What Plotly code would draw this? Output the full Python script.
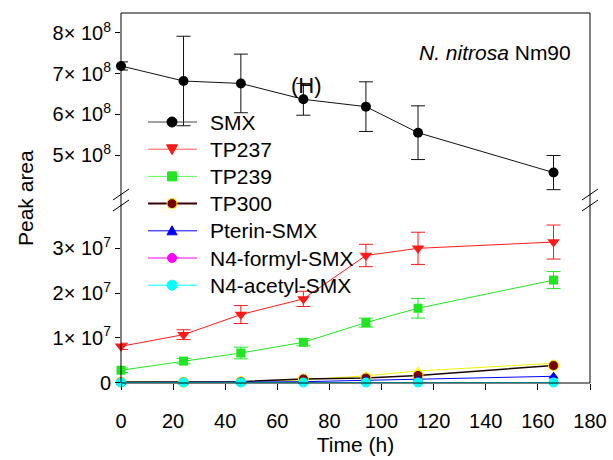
import plotly.graph_objects as go

# Sampling times (h)
time_h = [0, 24, 46, 70, 94, 114, 166]

# Parent compound (upper panel)
smx = [7.19e8, 6.82e8, 6.76e8, 6.37e8, 6.19e8, 5.55e8, 4.57e8]
smx_err = [0.10e8, 1.10e8, 0.72e8, 0.39e8, 0.61e8, 0.66e8, 0.42e8]

# Transformation products (lower panel)
tp237 = [0.81e7, 1.07e7, 1.52e7, 1.87e7, 2.84e7, 3.00e7, 3.14e7]
tp237_err = [0.07e7, 0.11e7, 0.20e7, 0.17e7, 0.25e7, 0.36e7, 0.38e7]
tp239 = [0.275e7, 0.48e7, 0.66e7, 0.90e7, 1.34e7, 1.66e7, 2.29e7]
tp239_err = [0.05e7, 0.06e7, 0.13e7, 0.08e7, 0.10e7, 0.22e7, 0.19e7]
tp300 = [0.01e7, 0.01e7, 0.02e7, 0.08e7, 0.10e7, 0.16e7, 0.38e7]
tp_yellow = [0.0, 0.005e7, 0.02e7, 0.06e7, 0.15e7, 0.26e7, 0.43e7]
pterin_smx = [0.0, 0.0, 0.01e7, 0.02e7, 0.05e7, 0.07e7, 0.14e7]
n4_formyl_smx = [0.0, 0.0, 0.0, 0.0, 0.0, 0.0, 0.0]
n4_acetyl_smx = [0.0, 0.0, 0.0, 0.0, 0.0, 0.0, 0.0]

# Axis ticks
top_tickvals = [5e8, 6e8, 7e8, 8e8]
top_ticktext = ["5\u00d7 10<sup>8</sup>", "6\u00d7 10<sup>8</sup>",
                "7\u00d7 10<sup>8</sup>", "8\u00d7 10<sup>8</sup>"]
bot_tickvals = [0, 1e7, 2e7, 3e7]
bot_ticktext = ["0", "1\u00d7 10<sup>7</sup>", "2\u00d7 10<sup>7</sup>",
                "3\u00d7 10<sup>7</sup>"]
x_tickvals = list(range(0, 181, 20))

FONT = "Liberation Sans, Arial, sans-serif"
W, H = 613, 460
ML, MR, MT, MB = 121, 23, 13, 77
PW, PH = W - ML - MR, H - MT - MB
BREAK_PX = 200  # pixel row of the axis break
split = (H - MB - BREAK_PX) / PH


def px_x(p):
    return (p - ML) / PW


def px_y(p):
    return (H - MB - p) / PH


fig = go.Figure()


def add(y, color, symbol, err=None, yaxis="y", line_color=None,
        line_width=1, marker_line=None, size=9):
    fig.add_trace(go.Scatter(
        x=time_h, y=y, yaxis=yaxis, mode="lines+markers",
        showlegend=False, cliponaxis=False,
        line=dict(color=line_color or color, width=line_width),
        marker=dict(color=color, symbol=symbol, size=size,
                    line=marker_line or dict(width=0)),
        error_y=(dict(type="data", array=err, visible=True,
                      color=line_color or color, thickness=1, width=7)
                 if err is not None else None),
    ))


add(smx, "black", "circle", smx_err, yaxis="y2", line_color="#111111",
    size=10)
add(tp237, "#ff1a1a", "triangle-down", tp237_err, size=11)
add(tp239, "#22e622", "square", tp239_err, size=9)
add(tp_yellow, "#ffff00", "triangle-up", None, line_color="#f0f000", size=9)
add(tp300, "#7a0000", "circle", None, line_color="#1a0500", line_width=1.5,
    marker_line=dict(color="#ffee00", width=1), size=10)
add(pterin_smx, "#0000ff", "triangle-up", None, size=9)
add(n4_formyl_smx, "#ff00ff", "circle", None, size=9)
add(n4_acetyl_smx, "#00ffff", "circle", None, size=10)

axis_common = dict(showgrid=False, zeroline=False, showline=False,
                   automargin=False,
                   ticks="outside", ticklen=5, tickwidth=1, tickcolor="black",
                   tickfont=dict(family=FONT, size=20, color="black"))

fig.update_layout(
    width=W, height=H,
    margin=dict(l=ML, r=MR, t=MT, b=MB),
    paper_bgcolor="white", plot_bgcolor="white",
    font=dict(family=FONT, color="black"),
    xaxis=dict(range=[0, 180], tickvals=x_tickvals, anchor="y",
               ticklabelstandoff=14,
               title=dict(text="Time (h)", font=dict(size=21), standoff=6),
               **{**axis_common, "ticklen": 6}),
    yaxis=dict(domain=[0, split], range=[-0.01e7, 4.08e7],
               tickvals=bot_tickvals, ticktext=bot_ticktext, **axis_common),
    yaxis2=dict(domain=[split, 1], range=[3.896e8, 8.491e8],
                tickvals=top_tickvals, ticktext=top_ticktext, anchor="x",
                **axis_common),
    showlegend=False,
)

# Frame and axis-break marks
shapes = [dict(type="rect", xref="paper", yref="paper", x0=0, x1=1, y0=0,
               y1=1, line=dict(color="black", width=1))]
for cx in (ML, ML + PW):
    for cy in (194.5, 205.5):
        shapes.append(dict(type="line", xref="paper", yref="paper",
                           x0=px_x(cx - 8), y0=px_y(cy + 5.5),
                           x1=px_x(cx + 8), y1=px_y(cy - 5.5),
                           line=dict(color="black", width=1)))

# Key: name, line colour, line width, marker shape, fill, outline, size
legend_items = [
    ("SMX", "#444444", 1, "circle", "black", None, 10),
    ("TP237", "#ff5555", 1, "triangle-down", "#ff1a1a", None, 11),
    ("TP239", "#55ff55", 1, "square", "#22e622", None, 9),
    ("TP300", "#3a0000", 2, "circle", "#7a0000", "#ffee00", 10),
    ("Pterin-SMX", "#0000ff", 1, "triangle-up", "#0000ff", None, 10),
    ("N4-formyl-SMX", "#ff00ff", 1, "circle", "#ff00ff", None, 9),
    ("N4-acetyl-SMX", "#00ffff", 1, "circle", "#00ffff", None, 10),
]
KEY_Y0, KEY_DY = 122, 27.2
KEY_X0, KEY_X1, KEY_MX, KEY_TX = 148, 197, 172, 208
for i, (name, lc, lw, shape, fill, edge, sz) in enumerate(legend_items):
    yc = KEY_Y0 + i * KEY_DY
    shapes.append(dict(type="line", xref="paper", yref="paper",
                       x0=px_x(KEY_X0), x1=px_x(KEY_X1), y0=px_y(yc),
                       y1=px_y(yc), line=dict(color=lc, width=lw)))
    r = sz / 2
    common = dict(xref="paper", yref="paper", xsizemode="pixel",
                  ysizemode="pixel", xanchor=px_x(KEY_MX),
                  yanchor=px_y(yc), fillcolor=fill,
                  line=dict(color=edge or fill, width=1))
    if shape == "circle":
        shapes.append(dict(type="circle", x0=-r, x1=r, y0=-r, y1=r,
                           **common))
    elif shape == "square":
        shapes.append(dict(type="rect", x0=-r, x1=r, y0=-r, y1=r, **common))
    elif shape == "triangle-down":
        shapes.append(dict(type="path",
                           path=f"M{-r},{r * 0.8} L{r},{r * 0.8} L0,{-r} Z",
                           **common))
    else:
        shapes.append(dict(type="path",
                           path=f"M{-r},{-r * 0.8} L{r},{-r * 0.8} L0,{r} Z",
                           **common))
    fig.add_annotation(text=name, xref="paper", yref="paper", x=px_x(KEY_TX),
                       y=px_y(yc), xanchor="left", yanchor="middle",
                       showarrow=False, font=dict(size=21))
fig.update_layout(shapes=shapes)

fig.add_annotation(text="Peak area", textangle=-90, xref="paper",
                   yref="paper", x=px_x(25), y=px_y(198), xanchor="center",
                   yanchor="middle", showarrow=False, font=dict(size=21))
fig.add_annotation(text="(H)", xref="paper", yref="paper", x=px_x(306),
                   y=px_y(85), xanchor="center", yanchor="middle",
                   showarrow=False, font=dict(size=22))
fig.add_annotation(text="<i>N. nitrosa</i> Nm90", xref="paper", yref="paper",
                   x=px_x(573), y=px_y(52), xanchor="right",
                   yanchor="middle", showarrow=False, font=dict(size=21))

fig.write_html("out.html")
